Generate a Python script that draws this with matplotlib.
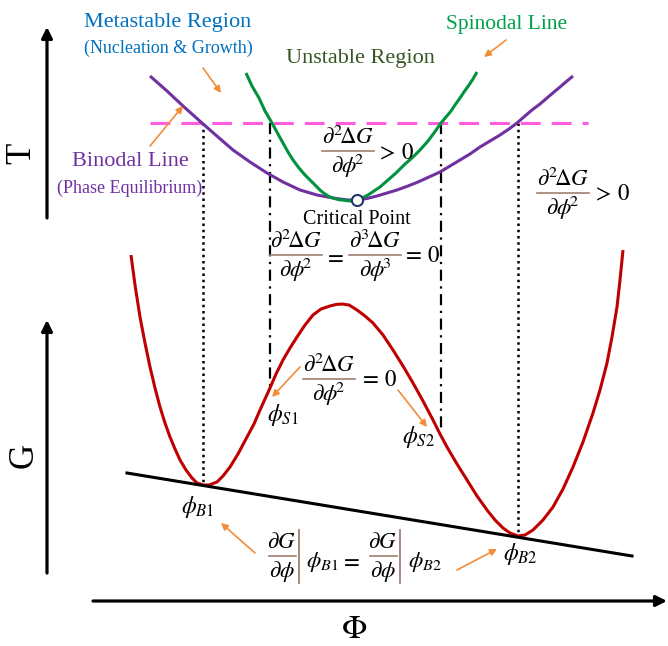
import matplotlib.pyplot as plt
import numpy as np

# ---------------- curve points (pixel coords, y down) ----------------
binodal_x = [150, 167, 183, 202, 218, 233, 250, 267, 283, 300, 317, 333, 340, 348, 357,
             367, 377, 387, 397, 408, 418, 429, 440, 450, 460, 470, 480, 490, 500, 509,
             517, 525, 532, 540, 547, 554, 560, 567, 573]
binodal_y = [76, 91, 106, 123, 137, 150, 162, 173, 182, 190, 195, 198, 199, 200, 200,
             198.5, 196, 193, 190, 186, 182, 177, 172, 166, 160, 154, 147, 141, 135, 129,
             123, 116, 110, 104, 98, 92, 87, 81, 76]

spinodal_x = [246, 252, 259, 265, 272, 278, 283, 288, 293, 299, 305, 311, 317, 321, 325,
              329, 333, 338, 342, 346, 350, 354, 357, 362, 368, 374, 380, 388, 396, 404,
              413, 420, 428, 434, 441, 446, 451, 455, 460, 464, 469, 473, 477]
spinodal_y = [73, 86, 98, 111, 123, 134, 143, 152, 160, 168, 175, 181, 187, 191, 194,
              196.5, 198, 199.5, 200, 200.5, 201, 200.5, 200, 198, 195, 191, 187, 180, 173, 165,
              157, 150, 141, 133, 123, 117, 111, 105, 98, 92, 85, 79, 72]

gibbs_x = [131, 135, 140, 145, 150, 155, 160, 165, 170, 175, 180, 186, 192, 197, 203,
           209, 217, 223, 230, 238, 247, 254, 260, 270, 276, 283, 290, 297, 305, 313,
           321, 330, 336, 342, 349, 357, 365, 373, 383, 393, 403, 413, 423, 433, 440,
           447, 457, 467, 477, 487, 495, 503, 510, 518, 525, 533, 543, 553, 563, 573,
           583, 593, 600, 607, 612, 617, 620, 623]
gibbs_y = [255, 285, 317, 343, 367, 388, 407, 423, 437, 449, 460, 470, 478, 483, 485,
           485, 482, 476, 467, 454, 437, 424, 410, 388, 374, 360, 348, 337, 325, 315,
           309, 306, 304.5, 304, 305, 310, 316, 323, 335, 350, 366, 383, 401, 420, 434,
           447, 464, 480, 496, 510, 520, 528, 533, 536, 535, 530, 520, 507, 489, 467,
           442, 413, 390, 363, 337, 307, 280, 250]

tangent_x = [127, 632]
tangent_y = [473, 556]

dashed_T_x = [150, 588]
dashed_T_y = [123, 123]

binodal_phi = [203, 518]
binodal_G = [485, 536]
spinodal_phi = [270, 441]
spinodal_G = [390, 430]

critical = (357, 200)

plt.rcParams['mathtext.fontset'] = 'stix'
serif = 'Liberation Serif'

fig = plt.figure(figsize=(6.68, 6.46), dpi=100)
ax = fig.add_axes([0, 0, 1, 1])
ax.set_xlim(0, 668)
ax.set_ylim(646, 0)
ax.axis('off')

purple = '#7030A0'
green = '#00923F'
red = '#C00000'
orange = '#F28C38'
brown = '#A08070'

# ---------------- axes arrows ----------------
def axis_arrow(x0, y0, x1, y1):
    ax.annotate('', xy=(x1, y1), xytext=(x0, y0),
                arrowprops=dict(arrowstyle='-|>', color='black', lw=2.3,
                                mutation_scale=16, shrinkA=0, shrinkB=0))

axis_arrow(47, 218, 47, 27)
axis_arrow(47, 573, 47, 320)
axis_arrow(93, 601, 667, 601)

ax.text(22, 153, 'T', fontsize=25, family=serif, rotation=90, ha='center', va='center')
ax.text(24, 455, 'G', fontsize=25, family=serif, rotation=90, ha='center', va='center')
ax.text(354, 629, r'$\Phi$', fontsize=24, ha='center', va='center')

# ---------------- vertical guide lines ----------------
for x, yb in zip(binodal_phi, binodal_G):
    ax.plot([x, x], [123, yb], color='black', lw=1.8, linestyle=(0, (1, 1.5)))
for x, yb in zip(spinodal_phi, spinodal_G):
    ax.plot([x, x], [123, yb], color='black', lw=1.6, linestyle=(0, (5, 2.5, 1, 2.5)))

# ---------------- curves ----------------
ax.plot(dashed_T_x, dashed_T_y, color='#FF5CE0', lw=2.2, linestyle=(0, (6.5, 3.6)))
for xs, ys, c in [(binodal_x, binodal_y, purple), (spinodal_x, spinodal_y, green),
                  (gibbs_x, gibbs_y, red)]:
    ax.plot(xs, ys, color=c, lw=2.2, solid_capstyle='butt', solid_joinstyle='round')
ax.plot(tangent_x, tangent_y, color='black', lw=2.2)
ax.plot(*critical, marker='o', ms=8, mfc='white', mec='#1F3864', mew=1.5)

# ---------------- region labels ----------------
ax.text(168, 23, 'Metastable Region', fontsize=16, family=serif, color='#0070C0', ha='center', va='center')
ax.text(168, 48, '(Nucleation & Growth)', fontsize=13, family=serif, color='#0070C0', ha='center', va='center')
ax.text(360, 58, 'Unstable Region', fontsize=16, family=serif, color='#375623', ha='center', va='center')
ax.text(507, 25, 'Spinodal Line', fontsize=15.5, family=serif, color='#00A04A', ha='center', va='center')
ax.text(130, 162, 'Binodal Line', fontsize=16, family=serif, color=purple, ha='center', va='center')
ax.text(130, 188, '(Phase Equilibrium)', fontsize=13, family=serif, color=purple, ha='center', va='center')
ax.text(357, 219, 'Critical Point', fontsize=14.5, family=serif, ha='center', va='center')

# ---------------- orange pointer arrows ----------------
def pointer(x0, y0, x1, y1):
    ax.annotate('', xy=(x1, y1), xytext=(x0, y0),
                arrowprops=dict(arrowstyle='-|>', color=orange, lw=1.2,
                                mutation_scale=10, shrinkA=0, shrinkB=0))

pointer(203, 68, 221, 93)
pointer(150, 146, 183, 106)
pointer(506, 40, 484, 57)
pointer(300, 367, 272, 397)
pointer(398, 390, 427, 427)
pointer(255, 553, 221, 523)
pointer(457, 570, 497, 549)

# ---------------- formulas ----------------
FS = 16.5

def frac(x, y, num, den, w, fs=FS):
    ax.text(x, y - 14, num, fontsize=fs, ha='center', va='center')
    ax.text(x, y + 15, den, fontsize=fs, ha='center', va='center')
    ax.plot([x - w / 2, x + w / 2], [y, y], color=brown, lw=1.2)

d2G = r'$\partial^{2}\!\Delta G$'
dphi2 = r'$\partial\phi^{\!\!2}$'

frac(348, 151, d2G, dphi2, 52)
ax.text(376, 153, r'$>\,0$', fontsize=FS, ha='left', va='center')

frac(296, 255, d2G, dphi2, 52)
ax.text(334, 256, r'$=$', fontsize=FS, ha='center', va='center')
frac(375, 255, r'$\partial^{3}\!\Delta G$', r'$\partial\phi^{\!\!3}$', 52)
ax.text(421, 256, r'$=\,0$', fontsize=FS, ha='center', va='center')

frac(329, 379, d2G, dphi2, 52)
ax.text(378, 380, r'$=\,0$', fontsize=FS, ha='center', va='center')

frac(563, 193, d2G, dphi2, 52)
ax.text(611, 194, r'$>\,0$', fontsize=FS, ha='center', va='center')

frac(282, 556, r'$\partial G$', r'$\partial\phi$', 27)
ax.plot([299, 299], [530, 583], color=brown, lw=1.3)
ax.text(322, 562, r'$\phi_{B1}$', fontsize=FS, ha='center', va='center')
ax.text(350, 560, r'$=$', fontsize=FS, ha='center', va='center')
frac(383, 556, r'$\partial G$', r'$\partial\phi$', 27)
ax.plot([400, 400], [530, 583], color=brown, lw=1.3)
ax.text(425, 562, r'$\phi_{B2}$', fontsize=FS, ha='center', va='center')

# ---------------- phase labels ----------------
ax.text(198, 507, r'$\phi_{B1}$', fontsize=17, ha='center', va='center')
ax.text(520, 554, r'$\phi_{B2}$', fontsize=17, ha='center', va='center')
ax.text(283, 415, r'$\phi_{S1}$', fontsize=17, ha='center', va='center')
ax.text(418, 437, r'$\phi_{S2}$', fontsize=17, ha='center', va='center')

fig.savefig('out.png', dpi=100)
